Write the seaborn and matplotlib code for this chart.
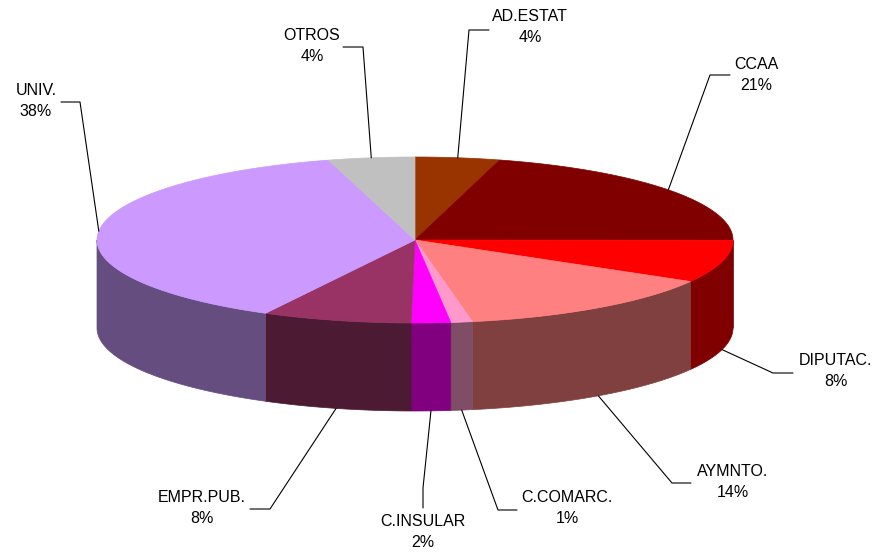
import numpy as np
import seaborn as sns
import matplotlib.pyplot as plt
from matplotlib.patches import Polygon
from matplotlib.colors import to_rgb

# data
labels = ["AD.ESTAT", "CCAA", "DIPUTAC.", "AYMNTO.", "C.COMARC.",
          "C.INSULAR", "EMPR.PUB.", "UNIV.", "OTROS"]
values = [4.3, 20.8, 8.3, 13.8, 1.1, 2.0, 7.6, 37.9, 4.4]
colors = ["#993300", "#800000", "#FF0000", "#FF8080", "#FF99CC",
          "#FF00FF", "#993366", "#CC99FF", "#C0C0C0"]

# layout (pixels, y down)
cx, cy, rx, ry, depth = 415, 240, 318, 83, 88
text_xy = [(530, 27), (756, 75), (836, 371), (733, 482), (567, 508),
           (423, 532), (202, 508), (36, 101), (312, 46)]
elbow_xy = [(469, 30), (710, 75), (773, 373), (672, 483), (498, 510),
            (423, 488), (270, 509), (80, 102), (363, 47)]
end_xy = [(489, 30), (730, 75), (793, 373), (691, 483), (517, 510),
          (423, 508), (250, 509), (61, 102), (343, 47)]

sns.set_style("white")
plt.rcParams["font.family"] = ["Liberation Sans", "DejaVu Sans"]

fig = plt.figure(figsize=(8.74, 5.52), dpi=100)
ax = fig.add_axes([0, 0, 1, 1])
ax.set_xlim(0, 874)
ax.set_ylim(552, 0)
ax.axis("off")


def pt(theta, dy=0.0):
    # theta in degrees, clockwise from top
    t = np.radians(theta)
    return cx + rx * np.sin(t), cy - ry * np.cos(t) + dy


total = float(sum(values))
bounds = np.concatenate([[0], np.cumsum(values)]) / total * 360

# side walls (front half only)
for i in range(len(values)):
    a0, a1 = max(bounds[i], 90), min(bounds[i + 1], 270)
    if a1 <= a0:
        continue
    th = np.linspace(a0, a1, 60)
    top = [pt(t) for t in th]
    bot = [pt(t, depth) for t in th[::-1]]
    side = tuple(c * 0.5 for c in to_rgb(colors[i]))
    ax.add_patch(Polygon(top + bot, closed=True, facecolor=side,
                         edgecolor=side, lw=0.5))

# top faces
for i in range(len(values)):
    th = np.linspace(bounds[i], bounds[i + 1], 120)
    poly = [(cx, cy)] + [pt(t) for t in th]
    ax.add_patch(Polygon(poly, closed=True, facecolor=colors[i],
                         edgecolor=colors[i], lw=0.5))

# labels with leader lines
for i, lab in enumerate(labels):
    mid = (bounds[i] + bounds[i + 1]) / 2
    dy = depth if 90 < mid < 270 else 0
    sx, sy = pt(mid, dy)
    ex, ey = elbow_xy[i]
    hx, hy = end_xy[i]
    ax.plot([sx, ex, hx], [sy, ey, hy], color="black", lw=0.8)
    pct = round(values[i] / total * 100)
    ax.text(text_xy[i][0], text_xy[i][1], f"{lab}\n{pct}%",
            ha="center", va="center", multialignment="center",
            fontsize=11.5, linespacing=1.5, color="black")

fig.savefig("out.png", dpi=100)
